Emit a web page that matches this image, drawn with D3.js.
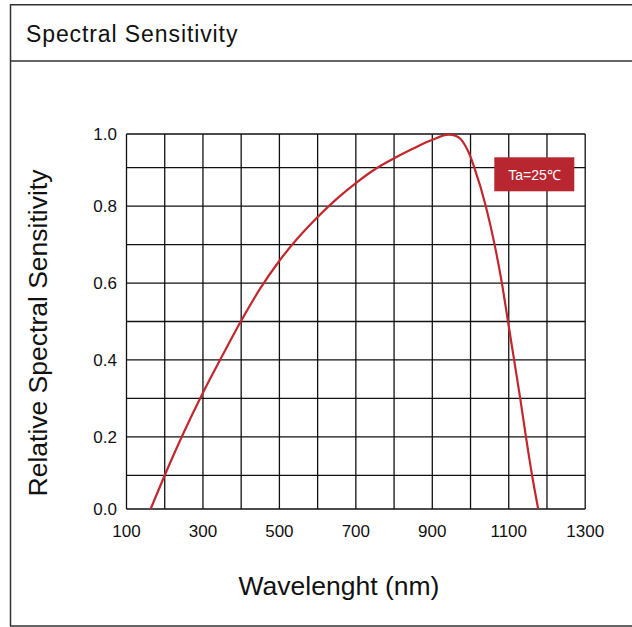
<!DOCTYPE html>
<html><head><meta charset="utf-8">
<script src="https://cdn.jsdelivr.net/npm/d3@7"></script>
<style>body{margin:0;background:#fff;}svg{display:block;font-family:"Liberation Sans",Arial,sans-serif;}</style>
</head><body>
<script>
const title = "Spectral Sensitivity";
const xLabel = "Wavelenght (nm)";
const yLabel = "Relative Spectral Sensitivity";
const legendText = "Ta=25℃";
const xTicks = [100, 300, 500, 700, 900, 1100, 1300];
const yTicks = [0.0, 0.2, 0.4, 0.6, 0.8, 1.0];
const xGrid = [100,200,300,400,500,600,700,800,900,1000,1100,1200,1300];
const yGrid = [0,0.1,0.2,0.3,0.4,0.5,0.6,0.7,0.8,0.9,1.0];
const wavelength = [163,200,250,300,350,400,450,500,550,600,650,700,750,800,850,900,943,962,974,986,998,1010,1040,1063,1082,1098,1114,1130,1145,1161,1177];
const sensitivity = [0,0.1,0.212,0.315,0.41,0.502,0.586,0.658,0.719,0.772,0.819,0.86,0.896,0.928,0.957,0.983,0.998,0.994,0.985,0.966,0.938,0.9,0.8,0.7,0.6,0.5,0.4,0.3,0.2,0.1,0];

const W = 632, H = 627;
const svg = d3.select("body").append("svg").attr("width", W).attr("height", H);

// frame
svg.append("path").attr("d", "M632,4.7 H10.5 V626 H632").attr("fill","none").attr("stroke","#333").attr("stroke-width",1.5);
svg.append("line").attr("x1",10.5).attr("x2",632).attr("y1",61).attr("y2",61).attr("stroke","#333").attr("stroke-width",1.5);
svg.append("text").attr("x",26).attr("y",42).attr("font-size",23).attr("letter-spacing",0.9).attr("fill","#111").text(title);

const x = d3.scaleLinear().domain([100,1300]).range([126.5,585.2]);
const y = d3.scaleLinear().domain([0,0.1,0.9,1.0]).range([509,475.3,167.7,134]);

const g = svg.append("g");
g.selectAll(".vg").data(xGrid).join("line")
  .attr("x1",d=>x(d)).attr("x2",d=>x(d)).attr("y1",y(0)).attr("y2",y(1))
  .attr("stroke","#111").attr("stroke-width",1.3);
g.selectAll(".hg").data(yGrid).join("line")
  .attr("y1",d=>y(d)).attr("y2",d=>y(d)).attr("x1",x(100)).attr("x2",x(1300))
  .attr("stroke","#111").attr("stroke-width",1.3);

g.selectAll(".xt").data(xTicks).join("text")
  .attr("x",d=>x(d)).attr("y",537).attr("text-anchor","middle").attr("font-size",17).attr("fill","#111")
  .text(d=>d);
g.selectAll(".yt").data(yTicks).join("text")
  .attr("x",117).attr("y",d=>y(d)+6).attr("text-anchor","end").attr("font-size",17).attr("fill","#111")
  .text(d=>d.toFixed(1));

const line = d3.line().x(d=>x(d[0])).y(d=>y(d[1])).curve(d3.curveMonotoneX);
svg.append("path").datum(d3.zip(wavelength, sensitivity))
  .attr("d", line).attr("fill","none").attr("stroke","#c1272d").attr("stroke-width",2.2);

// legend
svg.append("rect").attr("x",494.3).attr("y",157.3).attr("width",80).attr("height",34).attr("fill","#b8262f");
svg.append("text").attr("x",534.5).attr("y",179.5).attr("text-anchor","middle").attr("font-size",14).attr("fill","#fff").text(legendText);

svg.append("text").attr("x",339).attr("y",595).attr("text-anchor","middle").attr("font-size",26.5).attr("fill","#111").text(xLabel);
svg.append("text").attr("transform","translate(47,333) rotate(-90)").attr("text-anchor","middle").attr("font-size",26.5).attr("fill","#111").text(yLabel);
</script>
</body></html>
